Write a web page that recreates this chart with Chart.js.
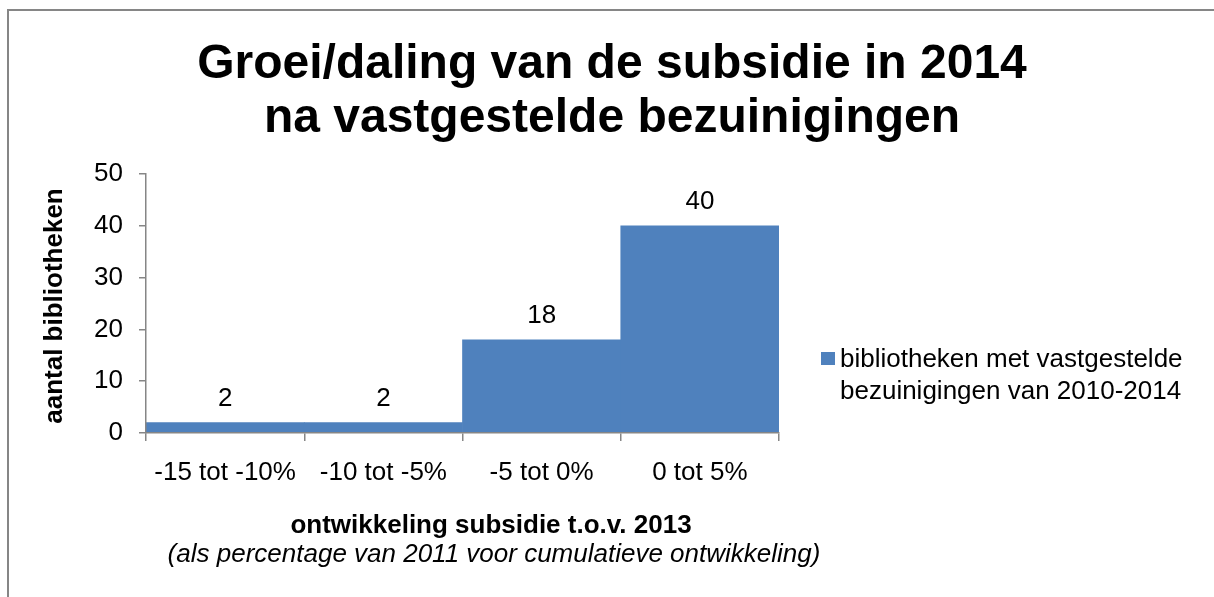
<!DOCTYPE html>
<html>
<head>
<meta charset="utf-8">
<script src="https://cdn.jsdelivr.net/npm/chart.js@4.4.1/dist/chart.umd.min.js"></script>
<style>
html,body{margin:0;padding:0;background:#ffffff;}
#wrap{width:1214px;height:597px;position:relative;}
</style>
</head>
<body>
<div id="wrap"><canvas id="c" width="1214" height="597"></canvas></div>
<script>
// ---- data ----
const chartTitle = ['Groei/daling van de subsidie in 2014', 'na vastgestelde bezuinigingen'];
const categories = ['-15 tot -10%', '-10 tot -5%', '-5 tot 0%', '0 tot 5%'];
const seriesName = 'bibliotheken met vastgestelde bezuinigingen van 2010-2014';
const legendLines = ['bibliotheken met vastgestelde', 'bezuinigingen van 2010-2014'];
const values = [2, 2, 18, 40];
const yMin = 0;
const yMax = 50;
const yStep = 10;
const yAxisTitle = 'aantal bibliotheken';
const xAxisTitle = 'ontwikkeling subsidie t.o.v. 2013';
const xAxisSubtitle = '(als percentage van 2011 voor cumulatieve ontwikkeling)';

const FONT = "'Liberation Sans', Arial, sans-serif";
const BAR = '#4F81BD';
const AXIS = '#868686';

const valueLabels = {
  id: 'valueLabels',
  afterDatasetsDraw(chart) {
    const ctx = chart.ctx;
    const meta = chart.getDatasetMeta(0);
    ctx.save();
    ctx.font = '26px ' + FONT;
    ctx.fillStyle = '#000';
    ctx.textAlign = 'center';
    ctx.textBaseline = 'alphabetic';
    meta.data.forEach((bar, i) => {
      ctx.fillText(String(values[i]), bar.x, bar.y - 17);
    });
    ctx.restore();
  }
};

const decorations = {
  id: 'decorations',
  afterDraw(chart) {
    const ctx = chart.ctx;
    ctx.save();
    // outer frame
    ctx.strokeStyle = AXIS;
    ctx.lineWidth = 2;
    ctx.beginPath();
    ctx.moveTo(8, 597);
    ctx.lineTo(8, 10);
    ctx.lineTo(1214, 10);
    ctx.stroke();

    ctx.fillStyle = '#000';
    ctx.textAlign = 'center';
    ctx.textBaseline = 'alphabetic';
    // title
    ctx.font = 'bold 48px ' + FONT;
    ctx.fillText(chartTitle[0], 612, 78);
    ctx.fillText(chartTitle[1], 612, 132);

    // x axis title
    ctx.font = 'bold 26px ' + FONT;
    ctx.fillText(xAxisTitle, 491, 533);
    ctx.font = 'italic 26px ' + FONT;
    ctx.fillText(xAxisSubtitle, 494, 562);

    // y axis title
    ctx.save();
    ctx.translate(62, 306);
    ctx.rotate(-Math.PI / 2);
    ctx.font = 'bold 26px ' + FONT;
    ctx.fillText(yAxisTitle, 0, 0);
    ctx.restore();

    // legend
    ctx.fillStyle = BAR;
    ctx.fillRect(821, 352, 14, 13);
    ctx.fillStyle = '#000';
    ctx.textAlign = 'left';
    ctx.font = '26px ' + FONT;
    ctx.fillText(legendLines[0], 840, 367);
    ctx.fillText(legendLines[1], 840, 399);
    ctx.restore();
  }
};

new Chart(document.getElementById('c'), {
  type: 'bar',
  data: {
    labels: categories,
    datasets: [{
      label: seriesName,
      data: values,
      backgroundColor: BAR,
      borderWidth: 0,
      barPercentage: 1.0,
      categoryPercentage: 1.0
    }]
  },
  options: {
    responsive: false,
    animation: false,
    devicePixelRatio: 1,
    layout: { padding: { left: 0, right: 435, top: 174, bottom: 0 } },
    plugins: {
      legend: { display: false },
      title: { display: false },
      tooltip: { enabled: false }
    },
    scales: {
      x: {
        afterFit(scale) { scale.height = 164; },
        grid: {
          display: true,
          drawOnChartArea: false,
          drawTicks: true,
          tickLength: 8,
          color: AXIS,
          lineWidth: 1.5,
          offset: true
        },
        border: { display: true, color: AXIS, width: 1.5, z: 1 },
        ticks: {
          color: '#000',
          font: { family: FONT, size: 26 },
          padding: 16,
          maxRotation: 0,
          autoSkip: false
        }
      },
      y: {
        min: yMin,
        max: yMax,
        afterFit(scale) { scale.width = 146; },
        grid: {
          display: true,
          drawOnChartArea: false,
          drawTicks: true,
          tickLength: 7,
          color: AXIS,
          lineWidth: 1.5
        },
        border: { display: true, color: AXIS, width: 1.5, z: 1 },
        ticks: {
          stepSize: yStep,
          color: '#000',
          font: { family: FONT, size: 26 },
          padding: 16
        }
      }
    }
  },
  plugins: [valueLabels, decorations]
});
</script>
</body>
</html>
